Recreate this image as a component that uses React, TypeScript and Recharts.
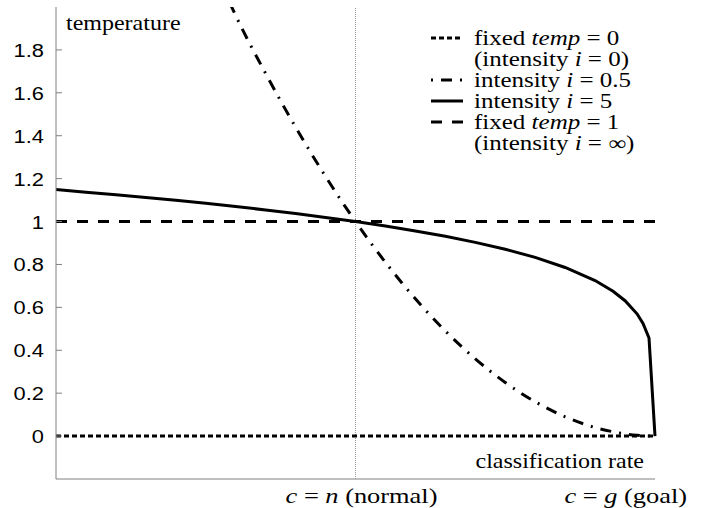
import React from "react";
import { LineChart, Line, XAxis, YAxis, ReferenceLine } from "recharts";

// classification rate c, with n = 0.5 (normal) and g = 1 (goal)
const cHalf = [0.29, 0.3, 0.35, 0.4, 0.45, 0.5, 0.55, 0.6, 0.65, 0.7, 0.75, 0.8, 0.85, 0.9, 0.93, 0.95, 0.97, 0.98, 0.99, 1];
const tempHalf = [2.02, 1.96, 1.69, 1.44, 1.21, 1.0, 0.81, 0.64, 0.49, 0.36, 0.25, 0.16, 0.09, 0.04, 0.02, 0.01, 0.004, 0.002, 0.0004, 0];

const cFive = [0, 0.05, 0.1, 0.15, 0.2, 0.25, 0.3, 0.35, 0.4, 0.45, 0.5, 0.55, 0.6, 0.65, 0.7, 0.75, 0.8, 0.85, 0.9, 0.93, 0.95, 0.97, 0.98, 0.99, 1];
const tempFive = [1.149, 1.137, 1.125, 1.112, 1.099, 1.085, 1.07, 1.054, 1.037, 1.019, 1.0, 0.979, 0.956, 0.931, 0.903, 0.871, 0.833, 0.786, 0.725, 0.675, 0.631, 0.57, 0.525, 0.457, 0];

const cFixed = [0, 1];
const tempZero = [0, 0];
const tempOne = [1, 1];

const yTicks = [0, 0.2, 0.4, 0.6, 0.8, 1, 1.2, 1.4, 1.6, 1.8];
const xTicks = [0.5, 1];

type Seg = [string, boolean];
const xTickLabels: Seg[][] = [
  [["c", true], [" = ", false], ["n", true], [" (normal)", false]],
  [["c", true], [" = ", false], ["g", true], [" (goal)", false]],
];

const legendRows: { key: string | null; parts: Seg[] }[] = [
  { key: "zero", parts: [["fixed ", false], ["temp", true], [" = 0", false]] },
  { key: null, parts: [["(intensity ", false], ["i", true], [" = 0)", false]] },
  { key: "half", parts: [["intensity ", false], ["i", true], [" = 0.5", false]] },
  { key: "five", parts: [["intensity ", false], ["i", true], [" = 5", false]] },
  { key: "one", parts: [["fixed ", false], ["temp", true], [" = 1", false]] },
  { key: null, parts: [["(intensity ", false], ["i", true], [" = \u221E)", false]] },
];

const toRows = (cs: number[], ts: number[]) => cs.map((c, i) => ({ c, t: ts[i] }));

const SERIF = "Liberation Serif";
const SANS = "Liberation Sans";
const LEFT = 56;
const RIGHT = 655;

const lineStyle: Record<string, { strokeWidth: number; strokeDasharray?: string; offset?: number }> = {
  zero: { strokeWidth: 3, strokeDasharray: "5 3" },
  half: { strokeWidth: 3, strokeDasharray: "11 8 2 8", offset: 19 },
  five: { strokeWidth: 3 },
  one: { strokeWidth: 3, strokeDasharray: "11 10" },
};

function SText({ x, y, size, anchor = "start", family = SERIF, sx = 1.2, parts }: {
  x: number; y: number; size: number; anchor?: "start" | "middle" | "end"; family?: string; sx?: number; parts: Seg[];
}) {
  return (
    <text
      transform={`translate(${x},${y}) scale(${sx},1)`}
      textAnchor={anchor}
      fill="#000"
      fontFamily={family}
      fontSize={size}
      xmlSpace="preserve"
    >
      {parts.map(([s, it], i) => (
        <tspan key={i} fontStyle={it ? "italic" : "normal"} fontFamily={family}>
          {s}
        </tspan>
      ))}
    </text>
  );
}

const LeftTick = (p: any) => (
  <g>
    <line x1={LEFT} x2={LEFT + 6} y1={p.y} y2={p.y} stroke="#808080" />
    <SText x={LEFT - 12} y={p.y + 7} size={19} sx={1.15} anchor="end" family={SANS} parts={[[String(p.payload.value), false]]} />
  </g>
);

const RightTick = (p: any) => (
  <line x1={RIGHT} x2={RIGHT - 6} y1={p.y} y2={p.y} stroke="#808080" />
);

const BottomTick = (p: any) => {
  const last = p.index === xTicks.length - 1;
  return (
    <SText
      x={last ? p.x + 32 : p.x + 6}
      y={503}
      size={22}
      anchor={last ? "end" : "middle"}
      parts={xTickLabels[p.index]}
    />
  );
};

export default function App() {
  return (
    <div style={{ position: "absolute", left: 0, top: 0 }}>
      <LineChart width={702} height={508} margin={{ top: 7, right: 47, bottom: 0, left: 0 }}>
        <XAxis
          dataKey="c"
          type="number"
          domain={[0, 1]}
          ticks={xTicks}
          height={29}
          axisLine={{ stroke: "#808080" }}
          tickLine={false}
          tick={BottomTick}
          interval={0}
        />
        <XAxis xAxisId="top" orientation="top" type="number" domain={[0, 1]} height={0} tick={false} tickLine={false} axisLine={{ stroke: "#000" }} />
        <YAxis
          type="number"
          domain={[-0.2, 2]}
          allowDataOverflow
          ticks={yTicks}
          width={56}
          axisLine={{ stroke: "#808080" }}
          tickLine={false}
          tick={LeftTick}
          interval={0}
        />
        <YAxis
          yAxisId="right"
          orientation="right"
          type="number"
          domain={[-0.2, 2]}
          ticks={yTicks}
          width={0}
          axisLine={{ stroke: "#808080" }}
          tickLine={false}
          tick={RightTick}
          interval={0}
        />
        <ReferenceLine x={0.5} stroke="#9a9a9a" strokeDasharray="1 1" />
        <Line data={toRows(cFixed, tempZero)} dataKey="t" stroke="#000" strokeWidth={3} strokeDasharray="5 3" dot={false} isAnimationActive={false} />
        <Line data={toRows(cFixed, tempOne)} dataKey="t" stroke="#000" strokeWidth={3} strokeDasharray="11 10" dot={false} isAnimationActive={false} />
        <Line data={toRows(cHalf, tempHalf)} dataKey="t" type="monotone" stroke="#000" strokeWidth={3} strokeDasharray="11 8 2 8" dot={false} isAnimationActive={false} />
        <Line data={toRows(cFive, tempFive)} dataKey="t" stroke="#000" strokeWidth={3} dot={false} isAnimationActive={false} />

        <SText x={66} y={30} size={20} parts={[["temperature", false]]} />
        <SText x={644} y={468} size={20} anchor="end" parts={[["classification rate", false]]} />

        <g>
          {legendRows.map((row, i) => {
            const cy = 38 + i * 21;
            const st = row.key ? lineStyle[row.key] : null;
            return (
              <g key={i}>
                {st && (
                  <line
                    x1={431}
                    x2={463}
                    y1={cy}
                    y2={cy}
                    stroke="#000"
                    strokeWidth={st.strokeWidth}
                    strokeDasharray={st.strokeDasharray}
                    strokeDashoffset={st.offset}
                  />
                )}
                <SText x={474} y={cy + 7} size={20} sx={1.25} parts={row.parts} />
              </g>
            );
          })}
        </g>
      </LineChart>
    </div>
  );
}
